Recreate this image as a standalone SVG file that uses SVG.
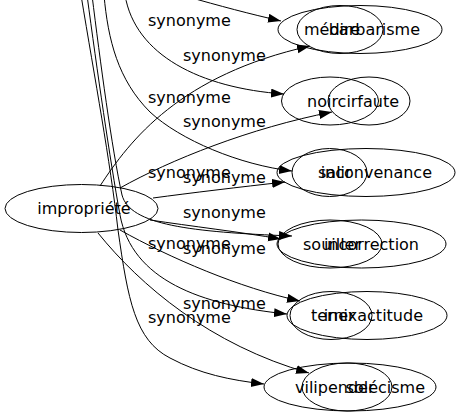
<svg xmlns="http://www.w3.org/2000/svg" width="460" height="419" viewBox="0 0 460 419">
<style>
.n ellipse{fill:none;stroke:#000;stroke-width:1}
.t{font-family:"DejaVu Sans",sans-serif;font-size:16px;fill:#000}
.e path{fill:none;stroke:#000;stroke-width:1;marker-end:url(#ah)}
.l{font-family:"DejaVu Sans",sans-serif;font-size:16px;fill:#000}
</style>
<defs>
<marker id="ah" markerUnits="userSpaceOnUse" markerWidth="13" markerHeight="10" refX="13" refY="4.5" orient="auto">
<path d="M0,0 L13,4.5 L0,9 Z" fill="#000"/>
</marker>
</defs>
<rect width="460" height="419" fill="#fff"/>
<g id="edges" class="e">
<path d="M185,-4 C220,6 250,14 281,21"/>
<path d="M125,-5 C135,55 200,88 284,94"/>
<path d="M104,-5 C108,40 118,80 150,112 C180,140 240,165 292,171"/>
<path d="M100,186 C130,140 180,75 310,46"/>
<path d="M120,188 C170,160 250,128 332,112"/>
<path d="M153,198 C190,193 240,187 285,182"/>
<path d="M92,-5 C100,60 112,150 122,195 C130,225 190,232 292,236"/>
<path d="M150,220 C190,226 240,232 281,239"/>
<path d="M87,-5 C97,70 110,160 120,215 C132,280 200,305 287,314"/>
<path d="M120,230 C170,258 240,288 300,301"/>
<path d="M81,-5 C95,80 110,160 118,230 C128,300 135,340 170,358 C200,374 230,380 264,384"/>
<path d="M98,233 C140,285 210,345 309,373"/>
<g id="labels">
<text class="l" x="148" y="26">synonyme</text>
<text class="l" x="183" y="61">synonyme</text>
<text class="l" x="148" y="103">synonyme</text>
<text class="l" x="183" y="127">synonyme</text>
<text class="l" x="148" y="178">synonyme</text>
<text class="l" x="183" y="183">synonyme</text>
<text class="l" x="183" y="218">synonyme</text>
<text class="l" x="148" y="249">synonyme</text>
<text class="l" x="183" y="254">synonyme</text>
<text class="l" x="183" y="309">synonyme</text>
<text class="l" x="148" y="323">synonyme</text>
</g>
</g>
<g id="impropriete" class="n"><ellipse cx="81.5" cy="208.5" rx="76.5" ry="24"/><text class="t" x="84" y="214" text-anchor="middle">impropriété</text></g>
<g id="barbarisme" class="n"><ellipse cx="360" cy="29.5" rx="82" ry="24"/><text class="t" x="420" y="35" text-anchor="end">barbarisme</text></g>
<g id="medire" class="n"><ellipse cx="340" cy="29.5" rx="43" ry="24"/><text class="t" x="304" y="35">médire</text></g>
<g id="faute" class="n"><ellipse cx="369" cy="101" rx="41" ry="24"/><text class="t" x="399" y="106.5" text-anchor="end">faute</text></g>
<g id="noircir" class="n"><ellipse cx="330" cy="101" rx="48.5" ry="24"/><text class="t" x="307" y="106.5">noircir</text></g>
<g id="inconvenance" class="n"><ellipse cx="366" cy="172.5" rx="89" ry="24"/><text class="t" x="432" y="178" text-anchor="end">inconvenance</text></g>
<g id="salir" class="n"><ellipse cx="329.5" cy="172.5" rx="37.5" ry="24"/><text class="t" x="318" y="178">salir</text></g>
<g id="incorrection" class="n"><ellipse cx="361.5" cy="244" rx="84.5" ry="24"/><text class="t" x="419" y="249.5" text-anchor="end">incorrection</text></g>
<g id="souiller" class="n"><ellipse cx="330" cy="244" rx="52" ry="24"/><text class="t" x="303" y="249.5">souiller</text></g>
<g id="inexactitude" class="n"><ellipse cx="367" cy="315.5" rx="80" ry="24"/><text class="t" x="423" y="321" text-anchor="end">inexactitude</text></g>
<g id="ternir" class="n"><ellipse cx="331" cy="315.5" rx="41" ry="24"/><text class="t" x="311" y="321">ternir</text></g>
<g id="vilipender" class="n"><ellipse cx="350" cy="387" rx="86" ry="24"/><text class="t" x="295" y="392.5">vilipender</text></g>
<g id="solecisme" class="n"><ellipse cx="347" cy="387" rx="45" ry="24"/><text class="t" x="425" y="392.5" text-anchor="end">solécisme</text></g>
</svg>
